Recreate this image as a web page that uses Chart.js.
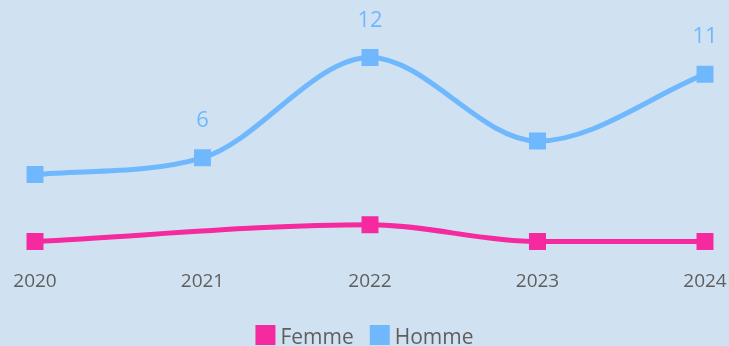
<!DOCTYPE html>
<html>
<head>
<meta charset="utf-8">
<script src="https://cdn.jsdelivr.net/npm/chart.js@4.4.1/dist/chart.umd.min.js"></script>
<style>
  html, body { margin: 0; padding: 0; background: #d0e2f2; overflow: hidden; }
  #c { display: block; }
</style>
</head>
<body>
<canvas id="c" width="729" height="346"></canvas>
<script>
// Years on the x axis
const years = ['2020', '2021', '2022', '2023', '2024'];
// Counts per year; Femme has no entry for 2021
const femme = [1, null, 2, 1, 1];
const homme = [5, 6, 12, 7, 11];
// Which Homme points carry a value label
const hommeLabelShown = [false, true, true, false, true];

const PINK = '#f42a9e';
const BLUE = '#70b8fd';
const TEXT = '#605e5c';
const FONT = '"Open Sans", sans-serif';

// Value labels drawn above the Homme points
const valueLabels = {
  id: 'valueLabels',
  afterDatasetsDraw(chart) {
    const ctx = chart.ctx;
    const meta = chart.getDatasetMeta(1);
    ctx.save();
    ctx.font = '22px ' + FONT;
    ctx.fillStyle = BLUE;
    ctx.textAlign = 'center';
    ctx.textBaseline = 'middle';
    meta.data.forEach((pt, i) => {
      if (!hommeLabelShown[i]) return;
      ctx.fillText(String(homme[i]), pt.x, pt.y - 37);
    });
    ctx.restore();
  }
};

// Compact legend centred under the plot: square swatch, small gap, series name
const swatchLegend = {
  id: 'swatchLegend',
  afterDraw(chart) {
    const ctx = chart.ctx;
    const sets = chart.data.datasets;
    const box = 20, gap = 5, between = 16, baseline = 344;
    ctx.save();
    ctx.font = '21px ' + FONT;
    ctx.textBaseline = 'alphabetic';
    ctx.textAlign = 'left';
    const widths = sets.map(ds => ctx.measureText(ds.label).width);
    const total = widths.reduce((s, w) => s + box + gap + w, 0) + between * (sets.length - 1);
    let x = (chart.width - total) / 2;
    sets.forEach((ds, i) => {
      ctx.fillStyle = ds.borderColor;
      ctx.fillRect(x, baseline - 19, box, box);
      x += box + gap;
      ctx.fillStyle = TEXT;
      ctx.fillText(ds.label, x, baseline);
      x += widths[i] + between;
    });
    ctx.restore();
  }
};

new Chart(document.getElementById('c'), {
  type: 'line',
  data: {
    labels: years,
    datasets: [
      {
        label: 'Femme',
        data: femme,
        borderColor: PINK,
        backgroundColor: PINK,
        borderWidth: 5,
        pointStyle: 'rect',
        pointRadius: 12,
        pointHoverRadius: 12,
        pointBorderWidth: 0,
        spanGaps: true,
        cubicInterpolationMode: 'monotone'
      },
      {
        label: 'Homme',
        data: homme,
        borderColor: BLUE,
        backgroundColor: BLUE,
        borderWidth: 5,
        pointStyle: 'rect',
        pointRadius: 12,
        pointHoverRadius: 12,
        pointBorderWidth: 0,
        cubicInterpolationMode: 'monotone'
      }
    ]
  },
  options: {
    responsive: false,
    animation: false,
    maintainAspectRatio: false,
    layout: { padding: { left: 35, right: 24, top: 24, bottom: 41 } },
    scales: {
      x: {
        offset: false,
        grid: { display: false, drawTicks: false },
        border: { display: false },
        // the edge year labels may hang into the side margins
        afterFit(scale) {
          scale.paddingLeft = 0;
          scale.paddingRight = 0;
        },
        ticks: {
          color: TEXT,
          font: { family: FONT, size: 19 },
          padding: 12,
          maxRotation: 0,
          autoSkip: false
        }
      },
      y: {
        display: false,
        min: 0,
        max: 14
      }
    },
    plugins: {
      legend: { display: false },
      tooltip: { enabled: false }
    }
  },
  plugins: [valueLabels, swatchLegend]
});
</script>
</body>
</html>
